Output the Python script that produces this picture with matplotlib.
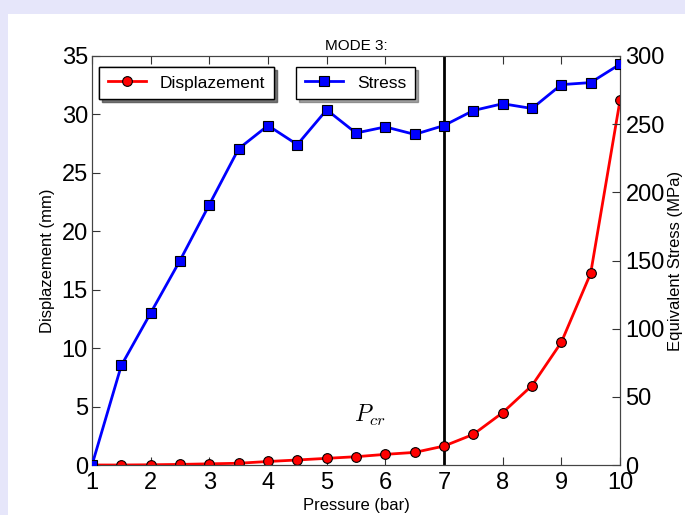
import matplotlib.pyplot as plt
from matplotlib.patches import Rectangle

plt.rcParams['font.family'] = ['Liberation Sans', 'DejaVu Sans']
plt.rcParams['mathtext.fontset'] = 'cm'

# data
pressure = [1, 1.5, 2, 2.5, 3, 3.5, 4, 4.5, 5, 5.5, 6, 6.5, 7, 7.5, 8, 8.5, 9, 9.5, 10]
displacement = [0, 0.0, 0.02, 0.05, 0.1, 0.15, 0.3, 0.43, 0.57, 0.71, 0.91, 1.08, 1.62,
                2.62, 4.48, 6.8, 10.5, 16.4, 31.2]
stress = [0, 73, 111.5, 150, 191, 232, 249, 235, 260.5, 243.5, 248, 242.5, 249,
          260, 265, 261.5, 279, 280.5, 294]
p_cr = 7

fig = plt.figure(figsize=(6.85, 5.15), dpi=100, facecolor='#e6e6fa')
# white page inside lavender frame
fig.patches.append(Rectangle((8/685, 0), 1, 1 - 14/515, transform=fig.transFigure,
                             facecolor='white', edgecolor='none', zorder=-10))

ax1 = fig.add_axes([92/685, 1 - 465/515, 528/685, 409/515])
ax2 = ax1.twinx()

l1, = ax1.plot(pressure, displacement, color='red', lw=2, marker='o', ms=7,
               mec='black', mew=0.8, label='Displazement', zorder=3)
l2, = ax2.plot(pressure, stress, color='blue', lw=2, marker='s', ms=6.5,
               mec='black', mew=0.8, label='Stress', zorder=3)
ax1.axvline(p_cr, color='black', lw=2)
ax1.text(5.47, 3.7, r'$P_{cr}$', fontsize=17)

ax1.set_xlim(1, 10)
ax1.set_ylim(0, 35)
ax2.set_ylim(0, 300)
ax1.set_xticks(range(1, 11))
ax1.set_yticks(range(0, 36, 5))
ax2.set_yticks(range(0, 301, 50))

for ax in (ax1, ax2):
    ax.tick_params(direction='in', labelsize=17, length=6, width=0.8, color='#333333')
    for s in ax.spines.values():
        s.set_color('#444444')
ax1.tick_params(top=True)
ax1.tick_params(axis='x', pad=5)
ax1.tick_params(axis='y', pad=3)
ax2.tick_params(axis='y', pad=4)

ax1.set_xlabel('Pressure (bar)', fontsize=12, labelpad=3)
ax1.set_ylabel('Displazement (mm)', fontsize=12, labelpad=5)
ax2.set_ylabel('Equivalent Stress (MPa)', fontsize=12, labelpad=2)
ax1.set_title('MODE 3:', fontsize=11, pad=4)

leg1 = ax1.legend(handles=[l1], loc='upper left', bbox_to_anchor=(-0.003, 0.995),
                  fontsize=12.5, shadow=True, fancybox=False, framealpha=1,
                  edgecolor='black', borderpad=0.5, handlelength=2.2)
ax1.add_artist(leg1)
ax2.legend(handles=[l2], loc='upper left', bbox_to_anchor=(0.37, 0.995),
           fontsize=12.5, shadow=True, fancybox=False, framealpha=1,
           edgecolor='black', borderpad=0.5, handlelength=2.2)

fig.savefig('out.png', dpi=100, facecolor=fig.get_facecolor())
